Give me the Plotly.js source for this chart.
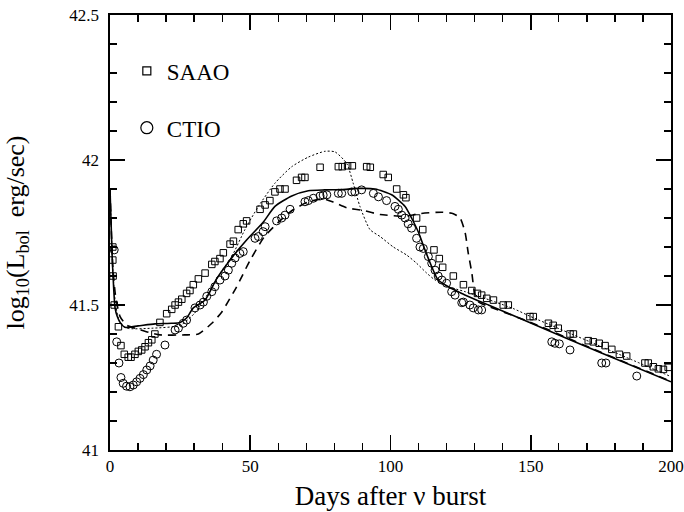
<!DOCTYPE html>
<html>
<head>
<meta charset="utf-8">
<script src="https://cdn.plot.ly/plotly-3.0.1.min.js"></script>
<style>html,body{margin:0;padding:0;background:#fff;}</style>
</head>
<body>
<div id="chart" style="width:684px;height:512px;"></div>
<script>
// SAAO observations
const saaoDays = [1.0,1.0,1.1,1.5,3.0,3.9,5.1,6.5,7.5,8.9,10.1,11.3,12.5,13.7,14.9,16.0,17.8,20.2,22.0,23.2,24.4,25.6,27.3,28.5,29.7,31.5,33.9,36.3,37.4,39.2,40.4,42.8,44.0,45.7,47.5,48.7,53.5,55.3,57.0,58.8,60.6,62.4,66.5,68.3,69.5,74.9,81.4,82.8,84.7,86.4,91.5,92.8,97.4,99.2,102.2,104.6,105.5,109.3,111.5,115.5,117.4,118.6,122.4,126.0,129.0,131.0,132.5,134.3,136.7,140.2,142.0,149.7,150.9,156.3,158.0,159.8,164.0,165.2,170.5,172.3,174.4,176.5,178.9,181.6,184.2,190.7,191.9,193.7,195.5,197.3,199.0];
const saaoL = [41.70,41.655,41.60,41.50,41.425,41.36,41.33,41.32,41.32,41.33,41.34,41.345,41.356,41.37,41.38,41.40,41.44,41.47,41.485,41.50,41.51,41.52,41.54,41.55,41.57,41.59,41.61,41.64,41.65,41.66,41.68,41.71,41.72,41.76,41.78,41.79,41.83,41.845,41.86,41.89,41.90,41.90,41.93,41.94,41.94,41.975,41.977,41.977,41.98,41.98,41.977,41.975,41.95,41.94,41.90,41.88,41.87,41.80,41.76,41.69,41.66,41.63,41.60,41.57,41.55,41.54,41.534,41.523,41.517,41.50,41.50,41.46,41.46,41.437,41.43,41.42,41.40,41.40,41.377,41.373,41.368,41.36,41.347,41.33,41.324,41.30,41.30,41.287,41.28,41.278,41.285];

// CTIO observations
const ctioDays = [1.5,2.4,3.2,3.9,4.7,5.9,7.1,8.3,9.5,10.7,11.9,13.1,14.3,15.4,16.6,19.6,23.2,24.4,26.1,27.3,30.3,32.1,33.3,34.5,36.3,37.4,39.2,41.0,42.2,43.4,44.6,46.3,47.5,51.7,52.9,54.6,55.3,59.4,61.2,62.4,64.2,69.5,70.7,72.5,74.9,76.0,77.3,81.4,82.6,86.2,87.3,89.7,93.9,95.7,98.6,101.6,102.8,104.0,105.2,106.3,107.5,109.3,110.5,111.7,113.5,114.7,115.9,117.0,118.3,120.0,121.8,123.0,125.4,126.0,128.3,129.5,131.3,132.5,157.5,158.6,160.2,164.0,175.3,176.8,187.8];
const ctioL = [41.69,41.373,41.30,41.25,41.23,41.22,41.218,41.224,41.235,41.247,41.26,41.276,41.29,41.31,41.33,41.362,41.414,41.42,41.437,41.448,41.49,41.50,41.51,41.53,41.546,41.563,41.586,41.60,41.62,41.644,41.662,41.678,41.684,41.73,41.736,41.753,41.77,41.79,41.80,41.81,41.83,41.856,41.86,41.868,41.876,41.879,41.88,41.885,41.885,41.89,41.89,41.897,41.885,41.873,41.86,41.84,41.83,41.81,41.80,41.78,41.765,41.73,41.70,41.695,41.667,41.644,41.62,41.60,41.586,41.575,41.546,41.534,41.508,41.51,41.50,41.49,41.483,41.483,41.373,41.368,41.366,41.345,41.30,41.30,41.255];

// Model curves
const solidDays = [0,0.4,0.8,1.3,1.8,2.6,3.6,5.3,10,16,22,25,27.3,29.7,33.9,38,44,48.7,54.6,58.8,64.8,70.7,76.6,82.6,88.5,94.5,100.4,105.2,107.5,110,112.3,114.7,117,120.6,125.4,134.9,150,175,200];
const solidL = [41.90,41.78,41.66,41.56,41.49,41.46,41.44,41.423,41.428,41.435,41.437,41.44,41.455,41.49,41.517,41.59,41.67,41.724,41.785,41.84,41.876,41.894,41.897,41.898,41.902,41.90,41.88,41.84,41.80,41.75,41.69,41.632,41.586,41.563,41.54,41.50,41.438,41.335,41.235];

const dashDays = [0,0.5,1,2,3.6,6,10.7,14,17.8,26.7,31.5,36.3,39.8,42,45,50,55,60,64.8,70.7,76,79.6,84.4,90.3,96.3,102.2,105.2,110.5,118.3,122.4,124.8,126.6,127.7,129,130,131.5,135,150,175,200];
const dashL = [41.90,41.75,41.63,41.53,41.46,41.43,41.415,41.405,41.397,41.397,41.40,41.437,41.475,41.51,41.56,41.655,41.735,41.785,41.825,41.856,41.866,41.855,41.835,41.826,41.812,41.807,41.806,41.815,41.82,41.815,41.80,41.75,41.68,41.61,41.54,41.51,41.495,41.44,41.337,41.237];

const dotDays = [0,0.5,1,2,3.5,6,15,25,30,35,40,43.4,48.1,52.9,58.8,64.8,70.7,76.6,80.2,84.4,86.7,89.1,92.7,96.3,101,105.8,109.3,112.9,115.9,120.6,126.6,143.7,150,175,200];
const dotL = [41.90,41.75,41.62,41.50,41.44,41.42,41.42,41.43,41.47,41.54,41.62,41.667,41.76,41.84,41.92,41.977,42.01,42.03,42.028,41.988,41.92,41.84,41.76,41.736,41.70,41.672,41.644,41.61,41.586,41.563,41.546,41.488,41.46,41.357,41.253];

const legendNames = ["SAAO", "CTIO"];
const nothing = [null];

const serif = "Liberation Serif, Times New Roman, serif";

const traces = [
  {x: solidDays, y: solidL, mode: "lines", line: {color: "#000", width: 1.6, shape: "spline", smoothing: 0.6}, showlegend: false, hoverinfo: "skip"},
  {x: dashDays, y: dashL, mode: "lines", line: {color: "#000", width: 1.6, dash: "8px,6px", shape: "spline", smoothing: 0.6}, showlegend: false, hoverinfo: "skip"},
  {x: dotDays, y: dotL, mode: "lines", line: {color: "#000", width: 1, dash: "2px,2px", shape: "spline", smoothing: 0.6}, showlegend: false, hoverinfo: "skip"},
  {x: saaoDays, y: saaoL, mode: "markers", name: legendNames[0], marker: {symbol: "square-open", size: 6.5, color: "#000", line: {width: 1}}, showlegend: false},
  {x: ctioDays, y: ctioL, mode: "markers", name: legendNames[1], marker: {symbol: "circle-open", size: 8, color: "#000", line: {width: 1}}, showlegend: false},
  {x: nothing, y: nothing, mode: "markers", name: legendNames[0], legendgroup: "a", marker: {symbol: "square-open", size: 8, color: "#000", line: {width: 1.2}}},
  {x: nothing, y: nothing, mode: "markers", name: legendNames[1], legendgroup: "b", marker: {symbol: "circle-open", size: 12, color: "#000", line: {width: 1.2}}}
];

const axisCommon = {
  showline: true, linecolor: "#000", linewidth: 1.6, mirror: "ticks",
  ticks: "inside", tickcolor: "#000", tickwidth: 1.6, ticklen: 15,
  showgrid: false, zeroline: false,
  tickfont: {family: serif, size: 17, color: "#000"}
};

const layout = {
  width: 684, height: 512,
  margin: {l: 110, r: 13, t: 15, b: 62},
  paper_bgcolor: "#fff", plot_bgcolor: "#fff",
  showlegend: true,
  legend: {x: 0.03, y: 0.921, xanchor: "left", yanchor: "top", bgcolor: "rgba(0,0,0,0)",
           font: {family: serif, size: 23, color: "#000"}, traceorder: "grouped", tracegroupgap: 24, itemwidth: 30},
  xaxis: Object.assign({}, axisCommon, {
    range: [0, 200], tickmode: "linear", tick0: 0, dtick: 50,
    minor: {tickmode: "linear", tick0: 0, dtick: 10, ticks: "inside", ticklen: 7, tickcolor: "#000", tickwidth: 1.4, showgrid: false},
    title: {text: "Days after \u03bd burst", font: {family: serif, size: 27, color: "#000"}, standoff: 11}
  }),
  yaxis: Object.assign({}, axisCommon, {
    range: [41, 42.5], tickmode: "linear", tick0: 41, dtick: 0.5,
    minor: {tickmode: "linear", tick0: 41, dtick: 0.1, ticks: "inside", ticklen: 7, tickcolor: "#000", tickwidth: 1.4, showgrid: false},
    ticklabelstandoff: 6,
    title: {text: "log<sub>10</sub>(L<sub>bol</sub>  erg/sec)", font: {family: serif, size: 26, color: "#000"}, standoff: 37}
  })
};

Plotly.newPlot("chart", traces, layout, {staticPlot: true, displayModeBar: false});
</script>
</body>
</html>
